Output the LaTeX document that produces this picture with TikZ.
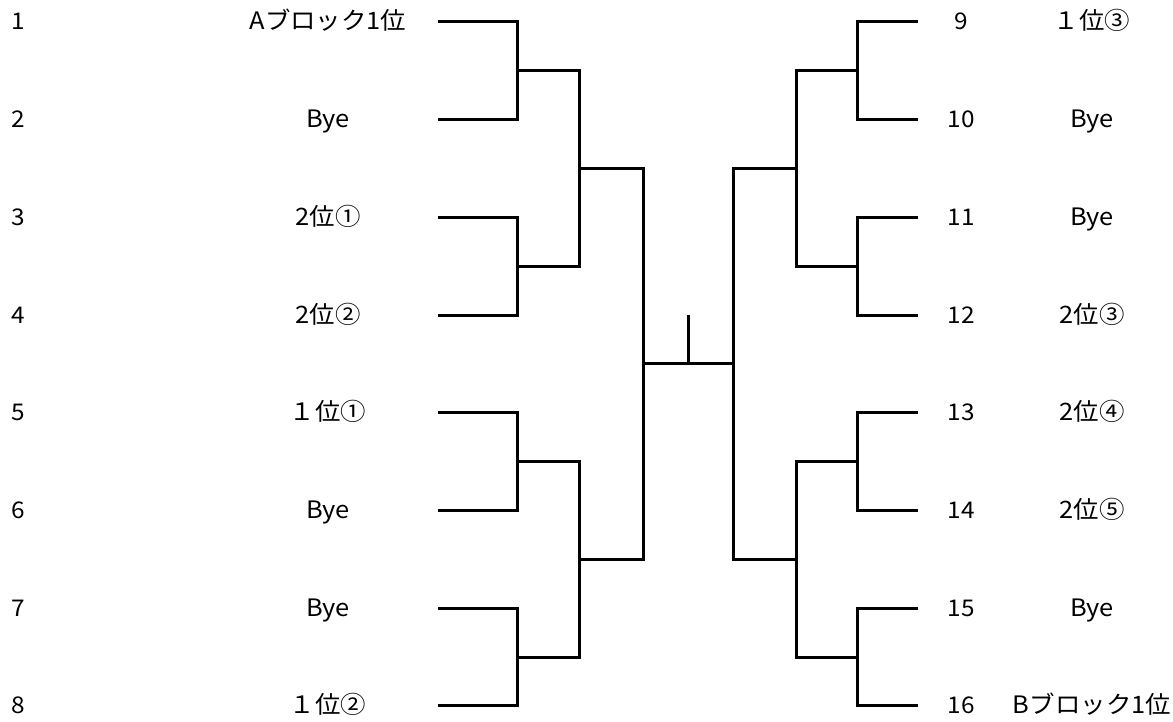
\documentclass[tikz,border=0pt]{standalone}
\usepackage{fontspec}
\setmainfont{Noto Sans CJK JP}[FakeStretch=1.06]
\usetikzlibrary{calc,positioning}

\begin{document}
\begin{tikzpicture}[x=1pt,y=-1pt,
line width=3pt,
num/.style={anchor=base,font=\fontsize{23}{23}\selectfont},
team/.style={anchor=base,font=\fontsize{24}{24}\selectfont},]
\useasboundingbox (0,0) rectangle (1173,722);

% left half
\foreach \i/\t in {1/Aブロック1位,2/Bye,3/2位①,4/2位②,5/１位①,6/Bye,7/Bye,8/１位②}{
  \node[num] (n\i) at (18,{30+97.7*(\i-1)}) {\i};
  \node[team] (t\i) at (328,{30+97.7*(\i-1)}) {\t};
  \coordinate (e\i) at (438,{22+97.7*(\i-1)});
}
% right half
\foreach \i/\t [count=\k] in {9/１位③,10/Bye,11/Bye,12/2位③,13/2位④,14/2位⑤,15/Bye,16/Bブロック1位}{
  \coordinate (e\i) at (918,{22+97.7*(\k-1)});
  \node[num] (n\i) at (961,{30+97.7*(\k-1)}) {\i};
  \node[team] (t\i) at (1092,{30+97.7*(\k-1)}) {\t};
}

% first round
\foreach \a/\b/\m/\d in {1/2/a1/79,3/4/a2/79,5/6/a3/79,7/8/a4/79,
                         9/10/a5/-61,11/12/a6/-61,13/14/a7/-61,15/16/a8/-61}{
  \coordinate (\m) at ($(e\a)!.5!(e\b)+(\d,0)$);
  \draw (e\a) -| (\m) |- (e\b);
}
% second round
\foreach \a/\b/\m/\d in {a1/a2/b1/62,a3/a4/b2/62,a5/a6/b3/-61,a7/a8/b4/-61}{
  \coordinate (\m) at ($(\a)!.5!(\b)+(\d,0)$);
  \draw (\a) -| (\m) |- (\b);
}
% semi final
\foreach \a/\b/\m/\d in {b1/b2/c1/64,b3/b4/c2/-63}{
  \coordinate (\m) at ($(\a)!.5!(\b)+(\d,0)$);
  \draw (\a) -| (\m) |- (\b);
}

% final
\draw (c1) -- (c2);
\coordinate (win) at ($(c1)!.5!(c2)$);
\draw (win) -- ++(0,-49);

\end{tikzpicture}
\end{document}
